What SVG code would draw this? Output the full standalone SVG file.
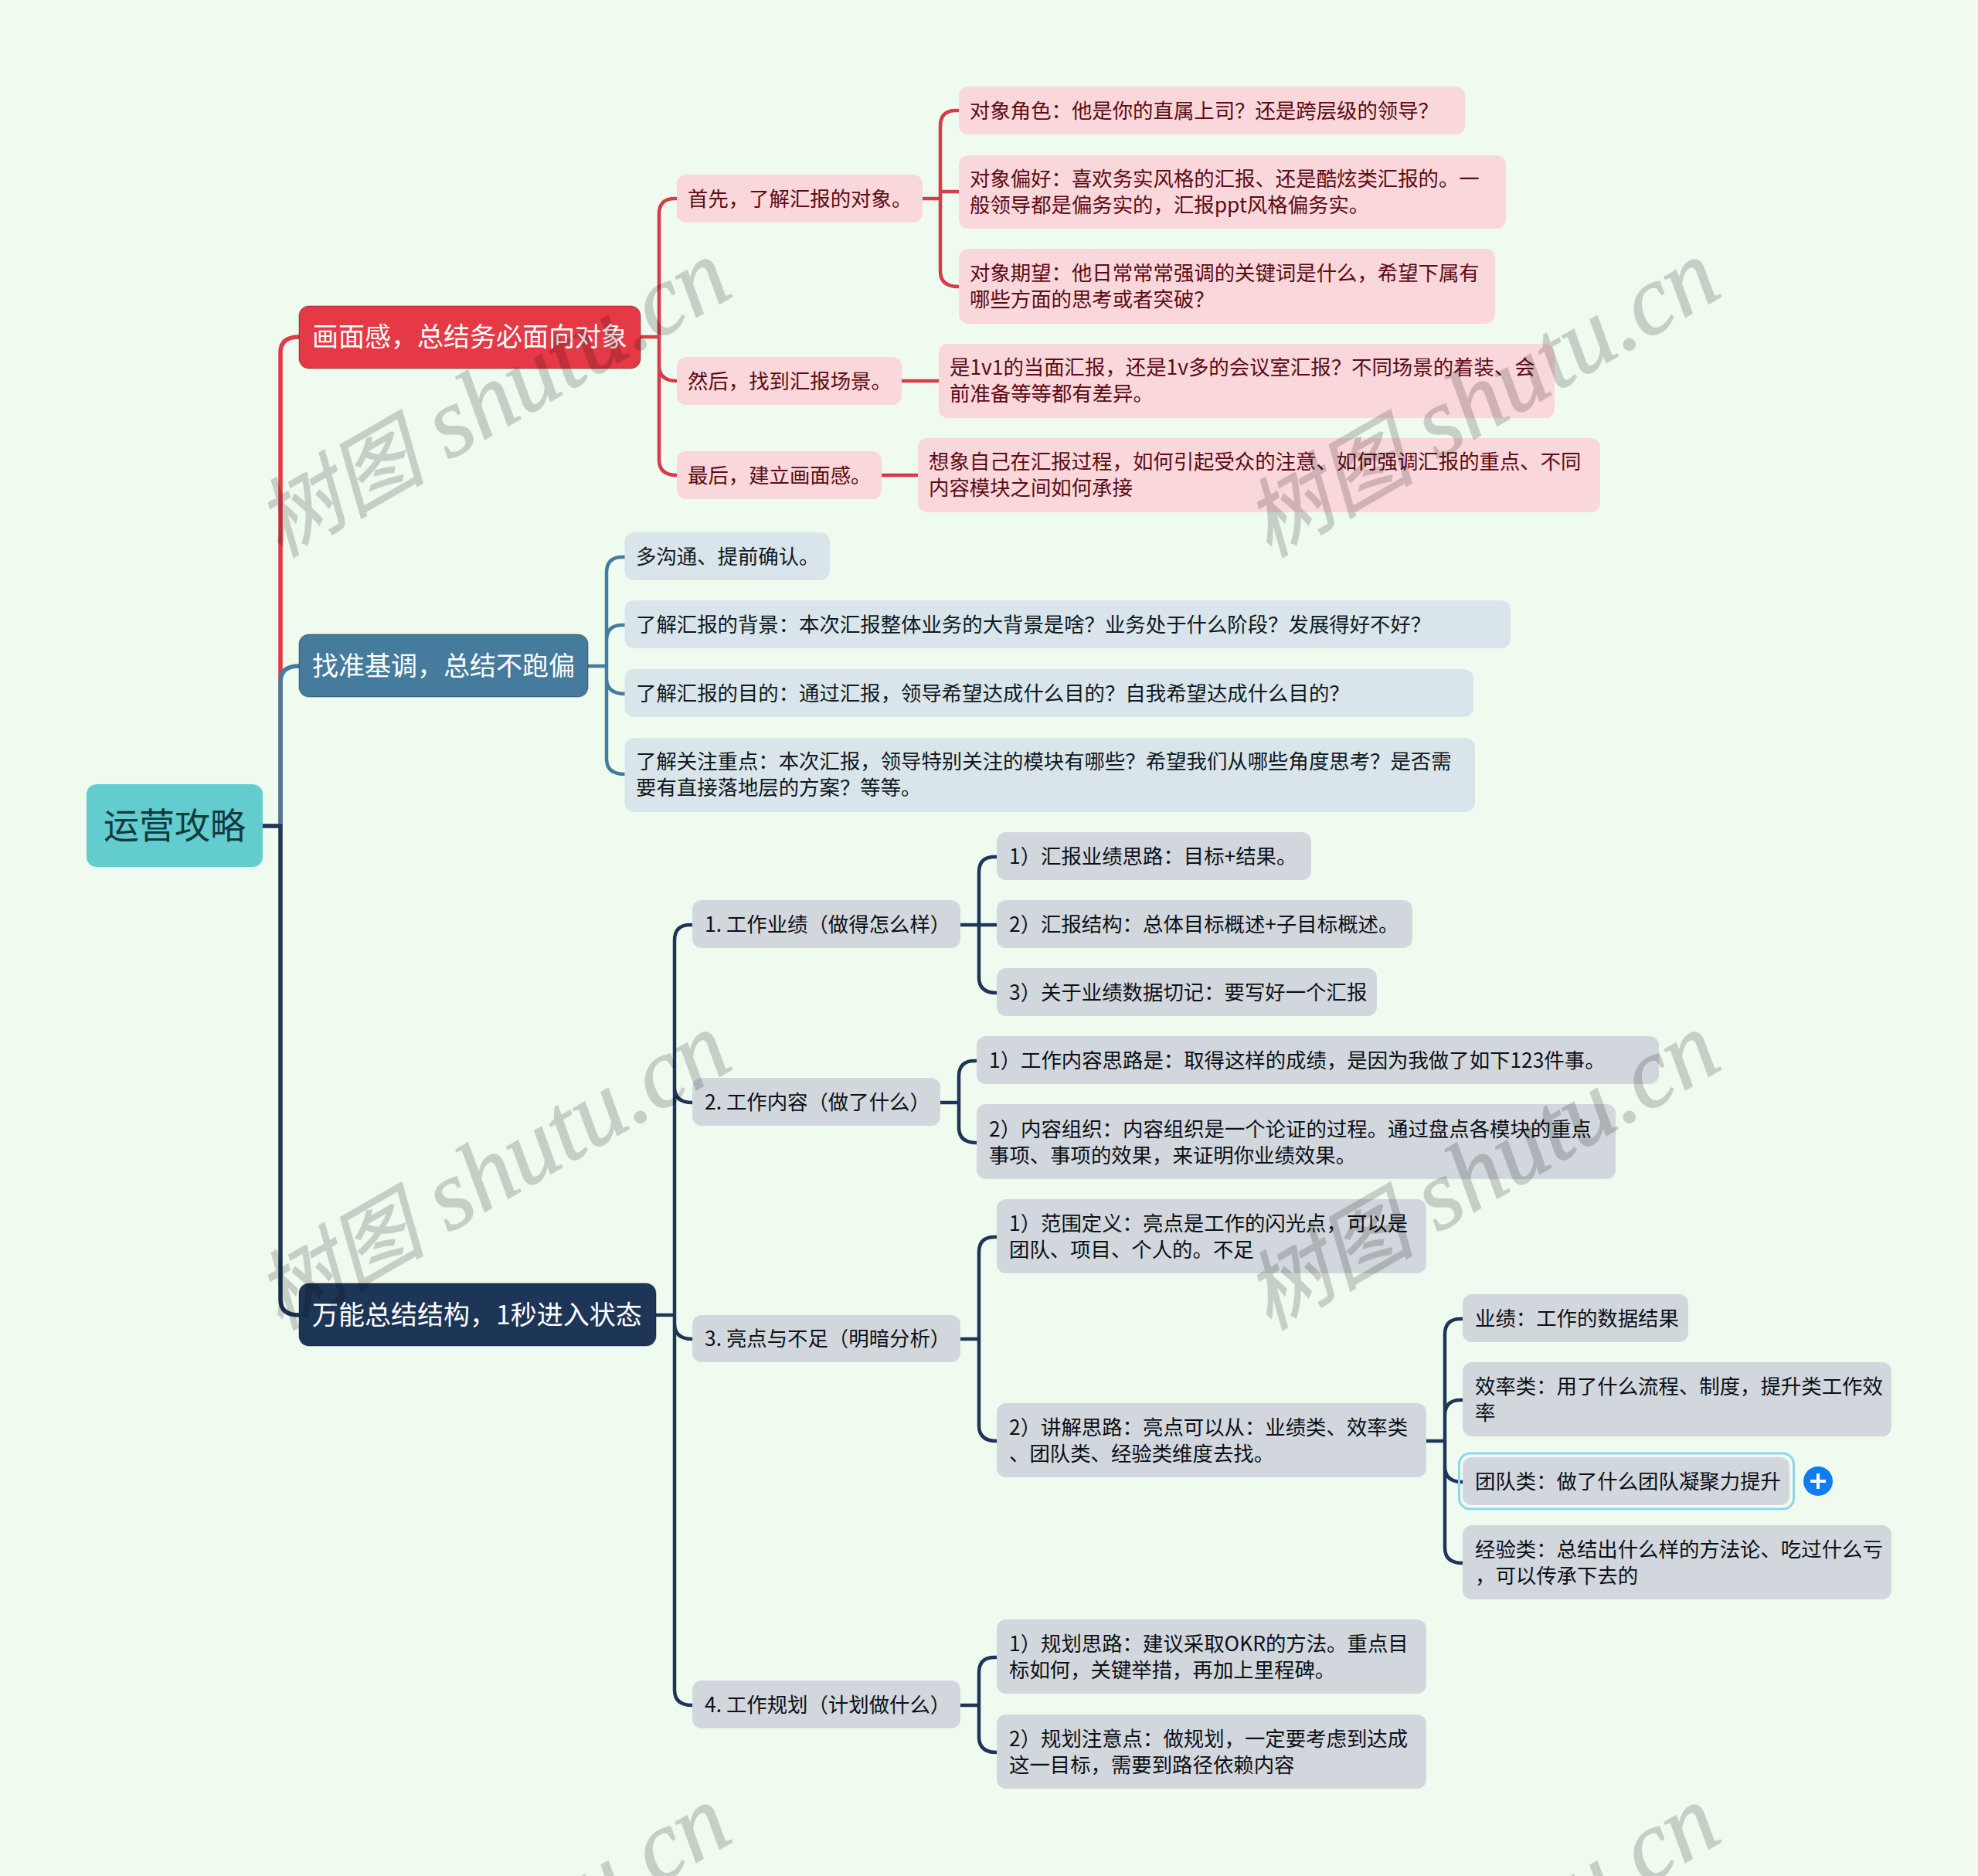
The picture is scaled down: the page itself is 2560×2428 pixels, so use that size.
<svg xmlns="http://www.w3.org/2000/svg" width="2560" height="2428" viewBox="0 0 2560 2428">
<style>
text{font-family:"Noto Sans CJK SC","Liberation Sans",sans-serif;font-size:26.4px}
.c{fill:none;stroke-width:4.5;stroke-linejoin:round;stroke-linecap:butt}
.t{stroke-width:5.5}
.r{stroke:#d83a47}.r.t{stroke:#e63946}.b{stroke:#457b9d}.d{stroke:#1d3557}
.l1 text{font-size:34px;fill:#fff}
.l1 rect{stroke-width:1.500;stroke-opacity:.25;stroke:#000}
.pk rect{fill:#fad7da}.pk text{fill:#5c0b14}
.bl rect{fill:#dae5eb;transform:translateY(-1px)}.bl text{fill:#0e1920}
.dk rect{fill:#d2d7dd;transform:translateY(-1px)}.dk text{fill:#0b1016}
.wm{font-family:"Liberation Serif","Noto Sans CJK SC",serif;font-style:italic;font-size:128px;fill:#000;stroke:#000;stroke-width:1.500;opacity:.17}
.wm tspan{font-size:110px}
</style>
<rect width="2560" height="2428" fill="#f0fbf0"/>
<g id="connectors">
<path class="c t r" d="M363 1069V456Q363 436 387 436"/>
<path class="c t b" d="M363 1069V882Q363 862 387 862"/>
<path class="c t d" d="M340 1069H363V1682Q363 1702 387 1702"/>
<path class="c r" d="M828 436H853M876 257H873Q853 257 853 277V595Q853 615 876 615M853 473Q853 493 876 493"/>
<path class="c r" d="M1193 257H1217M1241 143H1237Q1217 143 1217 163V351Q1217 371 1241 371M1217 248H1241"/>
<path class="c r" d="M1167 493H1215M1141 615H1188"/>
<path class="c b" d="M761 862H785M809 721H805Q785 721 785 741V982Q785 1002 809 1002M809 809H805Q785 809 785 829M785 878Q785 898 809 898"/>
<path class="c d" d="M849 1702H873M896 1197H893Q873 1197 873 1217V2187Q873 2207 896 2207M873 1407Q873 1427 896 1427M873 1713Q873 1733 896 1733"/>
<path class="c d" d="M1243 1197H1290M1290 1109H1287Q1267 1109 1267 1129V1265Q1267 1285 1290 1285"/>
<path class="c d" d="M1217 1427H1241M1264 1373H1261Q1241 1373 1241 1393V1459Q1241 1479 1264 1479"/>
<path class="c d" d="M1243 1733H1267M1290 1601H1287Q1267 1601 1267 1621V1845Q1267 1865 1290 1865"/>
<path class="c d" d="M1845 1865H1870M1893 1707H1890Q1870 1707 1870 1727V2003Q1870 2023 1893 2023M1893 1812H1890Q1870 1812 1870 1832M1870 1898Q1870 1918 1893 1918"/>
<path class="c d" d="M1243 2207H1267M1290 2145H1287Q1267 2145 1267 2165V2248Q1267 2268 1290 2268"/>
</g>
<g id="root"><rect x="112" y="1015" width="228" height="107" rx="13" fill="#63cccf"/><text x="134" y="1085" style="font-size:46px" fill="#123b3d">运营攻略</text></g>
<g id="n1" class="l1"><rect x="387" y="396" width="442" height="81" rx="13" fill="#e63946"/><text x="404" y="448">画面感，总结务必面向对象</text></g>
<g id="n2" class="l1"><rect x="387" y="821" width="374" height="81" rx="13" fill="#457b9d"/><text x="404" y="874">找准基调，总结不跑偏</text></g>
<g id="n3" class="l1"><rect x="387" y="1661" width="462" height="81" rx="13" fill="#1d3557"/><text x="404" y="1714">万能总结结构，1秒进入状态</text></g>
<g class="pk">
<g id="n1-1"><rect x="876" y="226" width="318" height="62" rx="12"/><text x="890" y="267">首先，了解汇报的对象。</text></g>
<g id="n1-2"><rect x="876" y="462" width="291" height="62" rx="12"/><text x="890" y="503">然后，找到汇报场景。</text></g>
<g id="n1-3"><rect x="876" y="584" width="265" height="62" rx="12"/><text x="890" y="625">最后，建立画面感。</text></g>
<g id="n1-1-1"><rect x="1241" y="112" width="655" height="62" rx="12"/><text x="1255" y="153">对象角色：他是你的直属上司？还是跨层级的领导？</text></g>
<g id="n1-1-2"><rect x="1241" y="201" width="708" height="95" rx="12"/><text x="1255" y="241">对象偏好：喜欢务实风格的汇报、还是酷炫类汇报的。一</text><text x="1255" y="275">般领导都是偏务实的，汇报ppt风格偏务实。</text></g>
<g id="n1-1-3"><rect x="1241" y="322" width="694" height="97" rx="12"/><text x="1255" y="363">对象期望：他日常常常强调的关键词是什么，希望下属有</text><text x="1255" y="397">哪些方面的思考或者突破？</text></g>
<g id="n1-2-1"><rect x="1215" y="445" width="797" height="96" rx="12"/><text x="1229" y="485">是1v1的当面汇报，还是1v多的会议室汇报？不同场景的着装、会</text><text x="1229" y="519">前准备等等都有差异。</text></g>
<g id="n1-3-1"><rect x="1188" y="567" width="883" height="96" rx="12"/><text x="1202" y="607">想象自己在汇报过程，如何引起受众的注意、如何强调汇报的重点、不同</text><text x="1202" y="641">内容模块之间如何承接</text></g>
</g>
<g class="bl">
<g id="n2-1"><rect x="808.500" y="690" width="265.500" height="62" rx="12"/><text x="823" y="730">多沟通、提前确认。</text></g>
<g id="n2-2"><rect x="808.500" y="778" width="1146.500" height="62" rx="12"/><text x="823" y="818">了解汇报的背景：本次汇报整体业务的大背景是啥？业务处于什么阶段？发展得好不好？</text></g>
<g id="n2-3"><rect x="808.500" y="867" width="1098.500" height="62" rx="12"/><text x="823" y="907">了解汇报的目的：通过汇报，领导希望达成什么目的？自我希望达成什么目的？</text></g>
<g id="n2-4"><rect x="808.500" y="956" width="1100.500" height="96" rx="12"/><text x="823" y="995">了解关注重点：本次汇报，领导特别关注的模块有哪些？希望我们从哪些角度思考？是否需</text><text x="823" y="1029">要有直接落地层的方案？等等。</text></g>
</g>
<g class="dk">
<g id="n3-1"><rect x="896" y="1166" width="347" height="62" rx="12"/><text x="912" y="1206">1. 工作业绩（做得怎么样）</text></g>
<g id="n3-2"><rect x="896" y="1396" width="321" height="62" rx="12"/><text x="912" y="1436">2. 工作内容（做了什么）</text></g>
<g id="n3-3"><rect x="896" y="1703" width="347" height="61" rx="12"/><text x="912" y="1742">3. 亮点与不足（明暗分析）</text></g>
<g id="n3-4"><rect x="896" y="2176" width="347" height="62" rx="12"/><text x="912" y="2216">4. 工作规划（计划做什么）</text></g>
<g id="n3-1-1"><rect x="1290" y="1078" width="407" height="62" rx="12"/><text x="1306" y="1118">1）汇报业绩思路：目标+结果。</text></g>
<g id="n3-1-2"><rect x="1290" y="1166" width="538" height="62" rx="12"/><text x="1306" y="1206">2）汇报结构：总体目标概述+子目标概述。</text></g>
<g id="n3-1-3"><rect x="1290" y="1254" width="492" height="62" rx="12"/><text x="1306" y="1294">3）关于业绩数据切记：要写好一个汇报</text></g>
<g id="n3-2-1"><rect x="1264" y="1342" width="883" height="62" rx="12"/><text x="1280" y="1382">1）工作内容思路是：取得这样的成绩，是因为我做了如下123件事。</text></g>
<g id="n3-2-2"><rect x="1264" y="1430" width="827" height="97" rx="12"/><text x="1280" y="1471">2）内容组织：内容组织是一个论证的过程。通过盘点各模块的重点</text><text x="1280" y="1505">事项、事项的效果，来证明你业绩效果。</text></g>
<g id="n3-3-1"><rect x="1290" y="1553" width="556" height="96" rx="12"/><text x="1306" y="1593">1）范围定义：亮点是工作的闪光点，可以是</text><text x="1306" y="1627">团队、项目、个人的。不足</text></g>
<g id="n3-3-2"><rect x="1290" y="1817" width="556" height="96" rx="12"/><text x="1306" y="1857">2）讲解思路：亮点可以从：业绩类、效率类</text><text x="1306" y="1891">、团队类、经验类维度去找。</text></g>
<g id="n3-3-2-1"><rect x="1893" y="1676" width="292" height="62" rx="12"/><text x="1909" y="1716">业绩：工作的数据结果</text></g>
<g id="n3-3-2-2"><rect x="1893" y="1764" width="555" height="96" rx="12"/><text x="1909" y="1804">效率类：用了什么流程、制度，提升类工作效</text><text x="1909" y="1838">率</text></g>
<g id="n3-3-2-3"><rect x="1888.500" y="1882" width="433" height="72" rx="14" style="fill:none" stroke="#8fd5ec" stroke-width="3"/><rect x="1893" y="1887" width="423" height="62" rx="12"/><text x="1909" y="1927">团队类：做了什么团队凝聚力提升</text><circle cx="2353" cy="1917" r="19" fill="#0f7cf2"/><path d="M2343 1917H2363M2353 1907V1927" stroke="#fff" stroke-width="4" fill="none"/></g>
<g id="n3-3-2-4"><rect x="1893" y="1975" width="555" height="96" rx="12"/><text x="1909" y="2015">经验类：总结出什么样的方法论、吃过什么亏</text><text x="1909" y="2049">，可以传承下去的</text></g>
<g id="n3-4-1"><rect x="1290" y="2097" width="556" height="96" rx="12"/><text x="1306" y="2137">1）规划思路：建议采取OKR的方法。重点目</text><text x="1306" y="2171">标如何，关键举措，再加上里程碑。</text></g>
<g id="n3-4-2"><rect x="1290" y="2220" width="556" height="96" rx="12"/><text x="1306" y="2260">2）规划注意点：做规划，一定要考虑到达成</text><text x="1306" y="2294">这一目标，需要到路径依赖内容</text></g>
</g>
<g id="watermarks">
<text class="wm" transform="translate(362 722) rotate(-30)"><tspan>树图</tspan> shutu.cn</text>
<text class="wm" transform="translate(1642 722) rotate(-30)"><tspan>树图</tspan> shutu.cn</text>
<text class="wm" transform="translate(362 1722) rotate(-30)"><tspan>树图</tspan> shutu.cn</text>
<text class="wm" transform="translate(1642 1722) rotate(-30)"><tspan>树图</tspan> shutu.cn</text>
<text class="wm" transform="translate(362 2722) rotate(-30)"><tspan>树图</tspan> shutu.cn</text>
<text class="wm" transform="translate(1642 2722) rotate(-30)"><tspan>树图</tspan> shutu.cn</text>
</g>
</svg>
